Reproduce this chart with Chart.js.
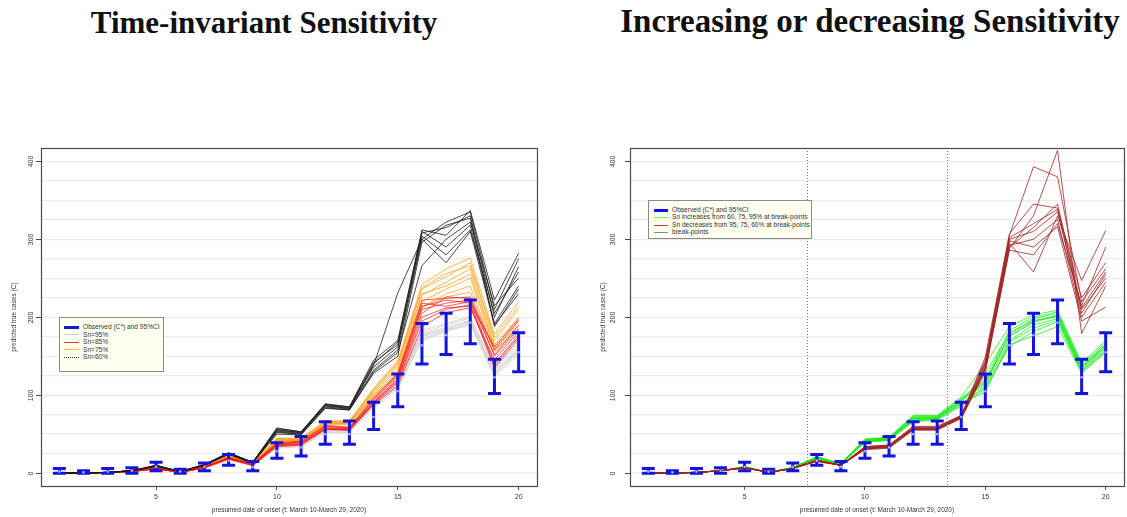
<!DOCTYPE html>
<html>
<head>
<meta charset="utf-8">
<script src="https://cdn.jsdelivr.net/npm/chart.js@4/dist/chart.umd.min.js"></script>
<style>
  body { margin:0; background:#fff; width:1127px; height:517px; overflow:hidden; position:relative; font-family:"Liberation Sans", Arial, sans-serif; }
  .ttl { position:absolute; font-family:"Liberation Serif", "Times New Roman", serif; font-weight:bold; color:#111; text-align:center; white-space:nowrap; }
  canvas { position:absolute; top:0; }
  .lg { position:absolute; box-sizing:border-box; background:#fffff0; border:1px solid #8a8a8a; font-size:6.6px; color:#333; z-index:2; }
  .lg div { white-space:nowrap; }
  .lg i { display:inline-block; height:0; vertical-align:middle; }
</style>
</head>
<body>

<div class="ttl" style="left:0; width:528px; top:7px; font-size:31px; line-height:31px;">Time-invariant Sensitivity</div>
<div class="ttl" style="left:570px; width:600px; top:5px; font-size:33px; line-height:33px;">Increasing or decreasing Sensitivity</div>

<canvas id="left" width="563" height="517" style="left:0"></canvas>
<canvas id="right" width="564" height="517" style="left:563px"></canvas>

<div class="lg" style="left:59px; top:317px; width:105px; height:55px; padding:5px 0 0 4px; line-height:7.5px;">
  <div><i style="width:15px; border-top:3px solid #1414dc; margin-right:4px"></i>Observed (C*) and 95%CI</div>
  <div><i style="width:15px; border-top:1px solid #d0d0d0; margin-right:4px"></i>Sn=95%</div>
  <div><i style="width:15px; border-top:1px solid #ff3030; margin-right:4px"></i>Sn=85%</div>
  <div><i style="width:15px; border-top:1px solid #ffb030; margin-right:4px"></i>Sn=75%</div>
  <div><i style="width:15px; border-top:1px dotted #333; margin-right:4px"></i>Sn=60%</div>
</div>

<div class="lg" style="left:648px; top:200px; width:164px; height:39px; padding:5px 0 0 5px; line-height:7.4px;">
  <div><i style="width:14px; border-top:3px solid #1414dc; margin-right:4px"></i>Observed (C*) and 95%CI</div>
  <div><i style="width:14px; border-top:1px solid #66ee66; margin-right:4px"></i>Sn increases from 60, 75, 95% at break-points</div>
  <div><i style="width:14px; border-top:1px solid #b04040; margin-right:4px"></i>Sn decreases from 95, 75, 60% at break-points</div>
  <div><i style="width:14px; border-top:1px solid #888; margin-right:4px"></i>break-points</div>
</div>

<script>
// presumed date of onset (day index)
const days = [1,2,3,4,5,6,7,8,9,10,11,12,13,14,15,16,17,18,19,20];

// observed C* and 95% CI
const obsMid  = [2,1,2,3,8,2,8,16,8,28,33,50,50,72,105,164,177,193,123,155];
const obsLow  = [0,0,0,0,3,0,3,10,3,19,22,37,37,56,85,140,152,166,102,130];
const obsHigh = [6,3,6,7,14,5,13,24,15,39,47,66,67,91,127,192,205,222,146,180];

// time-invariant sensitivity runs
const sn95Runs = [
  [0,0,1,2,6,1,7,18,10,35,37,55,55,88,113,178,186,196,130,160],
  [0,0,1,2,5,1,6,17,10,33,35,53,53,85,110,172,183,192,126,155],
  [0,0,1,3,6,1,7,19,11,36,38,56,56,90,116,180,190,199,133,163],
  [0,0,1,2,6,1,7,18,10,34,36,54,55,87,112,175,184,194,128,157],
  [0,0,1,2,5,1,6,17,9,32,34,52,52,84,108,170,182,190,124,152],
  [0,0,1,3,6,1,7,19,11,37,39,57,57,91,118,183,192,201,135,166],
  [0,0,1,2,6,1,7,18,10,35,36,55,54,86,114,176,187,195,129,158]
];
const sn85Runs = [
  [0,0,1,2,6,1,7,19,11,36,38,58,56,91,120,210,218,222,150,185],
  [0,0,1,2,6,1,7,20,11,38,40,60,58,95,126,218,214,220,140,178],
  [0,0,1,3,7,1,8,20,12,39,41,61,59,96,128,222,224,226,158,195],
  [0,0,1,2,6,1,7,19,11,35,37,57,55,89,116,195,210,216,135,172],
  [0,0,1,2,6,1,7,18,10,34,36,56,55,88,112,188,206,212,145,182],
  [0,0,1,3,7,1,8,20,12,38,40,60,58,94,124,214,222,218,162,198],
  [0,0,1,2,6,1,7,19,11,37,39,58,57,92,121,205,226,224,152,190],
  [0,0,1,2,5,1,7,18,10,35,37,56,56,90,118,200,212,214,138,175]
];
const sn75Runs = [
  [0,0,1,3,7,1,8,21,12,42,42,64,64,102,134,228,245,262,165,200],
  [0,0,1,3,7,1,8,22,13,44,44,66,66,106,140,236,252,270,170,210],
  [0,0,1,3,8,1,9,22,13,45,45,67,67,109,144,242,262,276,178,220],
  [0,0,1,2,7,1,8,20,12,40,41,62,62,98,128,212,230,240,156,184],
  [0,0,1,3,7,1,8,21,12,43,43,65,65,104,137,230,240,255,162,196],
  [0,0,1,3,7,1,8,21,12,41,42,63,64,100,130,220,236,250,160,190],
  [0,0,1,3,8,1,8,22,13,44,44,66,66,107,142,238,256,266,174,214],
  [0,0,1,2,7,1,8,20,12,41,42,63,63,99,126,214,226,232,158,186]
];
const sn60Runs = [
  [0,0,1,3,9,2,10,25,13,54,51,87,83,136,162,308,315,330,200,265],
  [0,0,1,3,10,2,11,26,14,56,52,88,84,140,168,310,290,318,192,240],
  [0,0,1,3,9,2,10,24,13,52,50,85,82,132,158,300,322,335,210,275],
  [0,0,1,3,9,2,10,25,13,55,52,86,83,138,231,300,270,310,190,230],
  [0,0,1,3,10,2,11,26,14,57,53,89,85,145,170,312,305,337,222,282],
  [0,0,1,3,9,2,10,25,13,53,50,84,81,130,155,266,300,322,215,250],
  [0,0,1,3,9,2,10,24,13,50,49,83,81,128,150,296,318,327,188,236],
  [0,0,1,3,10,2,11,26,14,58,53,88,85,142,165,304,280,312,205,258]
];

// changing sensitivity runs
const snUpRuns = [
  [0,0,1,3,8,1,7,20,12,42,44,70,71,92,115,175,195,202,135,162],
  [0,0,1,3,8,1,7,21,12,43,45,72,72,95,118,178,198,205,137,165],
  [0,0,1,3,8,1,7,20,11,41,43,68,70,89,112,170,190,198,132,160],
  [0,0,1,3,8,1,7,21,12,44,46,74,74,98,140,188,203,209,141,170],
  [0,0,1,3,7,1,7,19,11,40,42,66,68,86,108,165,176,188,128,155],
  [0,0,1,3,8,1,7,20,12,42,44,71,72,93,128,180,196,200,134,163],
  [0,0,1,3,8,1,7,21,12,43,45,73,73,96,120,183,200,207,139,167],
  [0,0,1,3,8,1,7,20,11,41,43,69,70,90,104,168,186,196,131,158],
  [0,0,1,3,8,1,7,20,12,42,44,70,71,94,116,176,193,203,136,164],
  [0,0,1,3,7,1,7,19,11,40,42,67,69,88,110,162,182,194,130,156]
];
const snDownRuns = [
  [0,0,1,3,7,1,6,16,10,32,34,57,57,72,138,300,310,335,210,250],
  [0,0,1,3,7,1,6,17,10,33,35,58,58,73,142,305,393,380,220,262],
  [0,0,1,3,7,1,6,15,10,30,32,55,55,70,130,288,330,414,179,240],
  [0,0,1,3,7,1,6,16,10,31,33,56,56,71,135,295,258,330,247,311],
  [0,0,1,3,7,1,6,17,10,34,36,60,60,74,149,307,345,340,205,255],
  [0,0,1,3,7,1,6,16,10,32,34,57,57,72,136,292,300,325,200,245],
  [0,0,1,3,7,1,6,15,10,31,33,56,56,71,132,286,280,320,215,290],
  [0,0,1,3,7,1,6,16,10,33,35,58,58,73,140,302,320,338,225,270],
  [0,0,1,3,7,1,6,17,10,34,36,59,59,74,145,298,290,316,195,213],
  [0,0,1,3,7,1,6,16,10,32,34,57,57,72,134,290,315,345,212,258]
];

const breakPoints = [7.6, 13.4];
const xTickVals = [5, 10, 15, 20];
const yGridVals = [0,25,50,75,100,125,150,175,200,225,250,275,300,325,350,375,400];
const yLabelVals = [0, 100, 200, 300, 400];

const xTitle = 'presumed date of onset (t: March 10-March 29, 2020)';
const yTitle = 'predicted true cases (C)';
const FONT = '"Liberation Sans", Arial, sans-serif';

function runSets(runs, color, order) {
  return runs.map(function(r) {
    return {
      data: r.map(function(v, i) { return { x: days[i], y: v }; }),
      borderColor: color, borderWidth: 1, pointRadius: 0, tension: 0, fill: false, order: order
    };
  });
}

// error bars, break-points, frame, rotated y labels
const framePlugin = {
  id: 'frame',
  afterDatasetsDraw(chart, args, opts) {
    const ctx = chart.ctx, a = chart.chartArea, x = chart.scales.x, y = chart.scales.y;
    ctx.save();
    ctx.strokeStyle = '#777'; ctx.lineWidth = 1; ctx.setLineDash([1, 2]);
    (opts.breaks || []).forEach(function(b) {
      const px = Math.round(x.getPixelForValue(b)) + 0.5;
      ctx.beginPath(); ctx.moveTo(px, a.top); ctx.lineTo(px, a.bottom); ctx.stroke();
    });
    ctx.setLineDash([]);

    ctx.strokeStyle = '#1414dc'; ctx.lineWidth = 3;
    days.forEach(function(d, i) {
      const px = x.getPixelForValue(d);
      const top = y.getPixelForValue(obsHigh[i]), bot = y.getPixelForValue(obsLow[i]);
      ctx.beginPath();
      ctx.moveTo(px, top); ctx.lineTo(px, bot);
      ctx.moveTo(px - 6.5, top); ctx.lineTo(px + 6.5, top);
      ctx.moveTo(px - 6.5, bot); ctx.lineTo(px + 6.5, bot);
      ctx.stroke();
    });
    ctx.fillStyle = '#9fb2ff';
    days.forEach(function(d, i) {
      ctx.beginPath();
      ctx.arc(x.getPixelForValue(d), y.getPixelForValue(obsMid[i]), 1.3, 0, Math.PI * 2);
      ctx.fill();
    });

    ctx.strokeStyle = '#4a4a4a'; ctx.lineWidth = 1.2;
    ctx.strokeRect(a.left + 0.5, a.top + 0.5, a.right - a.left, a.bottom - a.top);

    ctx.fillStyle = '#333'; ctx.font = '7px ' + FONT;
    ctx.textAlign = 'center'; ctx.textBaseline = 'middle';
    ctx.lineWidth = 1;
    yLabelVals.forEach(function(v) {
      const py = Math.round(y.getPixelForValue(v)) + 0.5;
      ctx.beginPath(); ctx.moveTo(a.left - 5, py); ctx.lineTo(a.left, py); ctx.stroke();
      ctx.save();
      ctx.translate(a.left - opts.labelGap, py);
      ctx.rotate(-Math.PI / 2);
      ctx.fillText(String(v), 0, 0);
      ctx.restore();
    });
    ctx.restore();
  }
};

function makeChart(id, datasets, padLeft, padRight, opts) {
  return new Chart(document.getElementById(id), {
    type: 'line',
    data: { datasets: datasets },
    plugins: [framePlugin],
    options: {
      responsive: false, animation: false, events: [],
      layout: { padding: { top: 148, left: padLeft, right: padRight, bottom: 0 } },
      plugins: { legend: { display: false }, tooltip: { enabled: false }, frame: opts },
      scales: {
        x: {
          type: 'linear', min: 0.24, max: 20.76,
          afterBuildTicks: function(s) { s.ticks = xTickVals.map(function(v) { return { value: v }; }); },
          afterFit: function(s) { s.height = 31; },
          grid: { drawOnChartArea: false, drawTicks: true, tickLength: 4, tickColor: '#555' },
          border: { display: false },
          ticks: { font: { size: 7, family: FONT }, color: '#333', padding: 3, maxRotation: 0 },
          title: { display: true, text: xTitle, font: { size: 6.5, family: FONT }, color: '#333', padding: { top: 3, bottom: 3 } }
        },
        y: {
          type: 'linear', min: -16.5, max: 417,
          afterBuildTicks: function(s) { s.ticks = yGridVals.map(function(v) { return { value: v }; }); },
          afterFit: function(s) { s.width = 41; },
          grid: { color: '#ebebeb', lineWidth: 1.3, drawTicks: false },
          border: { display: false },
          ticks: { display: false },
          title: { display: true, text: yTitle, font: { size: 6.5, family: FONT }, color: '#333', padding: { top: 10, bottom: 10 } }
        }
      }
    }
  });
}

makeChart('left', []
  .concat(runSets(sn95Runs, '#d6d6d6', 4))
  .concat(runSets(sn75Runs, 'rgba(255,160,20,0.75)', 3))
  .concat(runSets(sn85Runs, 'rgba(255,20,20,0.7)', 2))
  .concat(runSets(sn60Runs, 'rgba(25,25,25,0.8)', 1)),
  0, 26, { labelGap: 10, breaks: [] });

makeChart('right', []
  .concat(runSets(snUpRuns, 'rgba(20,235,20,0.75)', 2))
  .concat(runSets(snDownRuns, 'rgba(160,35,35,0.8)', 1)),
  26, 3, { labelGap: 17, breaks: breakPoints });
</script>
</body>
</html>
